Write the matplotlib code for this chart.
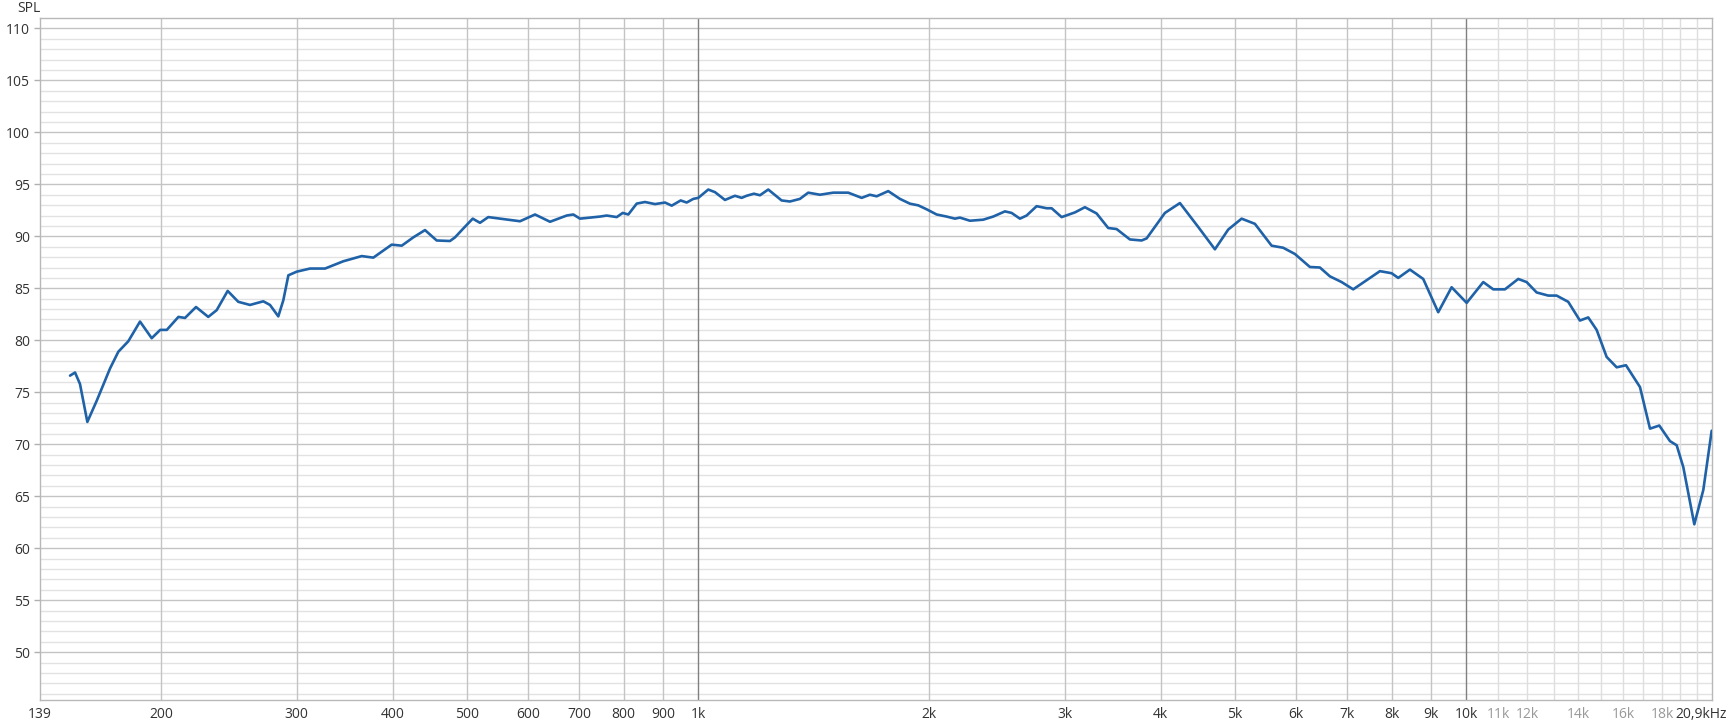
import matplotlib
matplotlib.use('Agg')
import matplotlib.pyplot as plt
import matplotlib.transforms as mtransforms
from matplotlib.ticker import FixedLocator, NullFormatter

plt.rcParams['font.family'] = ['Open Sans', 'DejaVu Sans']

#-----------------DATA-----------------

#frequency response (Hz, dB SPL)
freq = [152.1, 154.4, 156.7, 160.2, 164.8, 171.5, 175.8, 181.1, 187.6, 194.3,
        199.3, 203.3, 210.5, 214.7, 221.9, 230.2, 236.1, 244.0, 251.9, 260.9,
        271.5, 277.0, 284.0, 288.3, 292.7, 300.1, 312.3, 326.7, 345.1, 364.7,
        377.6, 399.0, 411.2, 425.7, 440.9, 456.6, 475.2, 482.4, 494.5, 508.7,
        519.9, 533.0, 552.0, 586.2, 613.2, 641.4, 674.3, 687.8, 701.7, 745.1,
        760.2, 783.4, 797.6, 811.1, 831.8, 852.7, 878.7, 905.4, 923.8, 949.0,
        966.2, 985.5, 1000.4, 1030.8, 1051.7, 1083.7, 1116.7, 1139.3, 1156.5, 1182.1,
        1203.6, 1233.9, 1284.4, 1316.8, 1356.8, 1391.0, 1440.7, 1499.3, 1568.3, 1632.6,
        1673.7, 1707.7, 1768.1, 1831.2, 1887.0, 1934.5, 1983.8, 2044.2, 2106.4, 2159.5,
        2192.1, 2258.8, 2350.7, 2422.2, 2508.7, 2559.6, 2624.1, 2677.4, 2758.9, 2842.9,
        2885.8, 2973.6, 3094.6, 3188.7, 3302.5, 3419.4, 3506.5, 3649.2, 3779.5, 3836.6,
        4053.0, 4239.5, 4478.6, 4708.6, 4900.1, 5101.0, 5308.5, 5581.1, 5778.6, 5984.8,
        6260.2, 6450.7, 6647.0, 6884.3, 7127.9, 7494.0, 7722.1, 7997.9, 8157.7, 8448.9,
        8792.6, 9197.0, 9574.0, 10016, 10527, 10847, 11234, 11691, 11989, 12354,
        12791, 13117, 13581, 14066, 14421, 14789, 15239, 15704, 16148, 16841,
        17354, 17845, 18427, 18801, 19177, 19820, 20362, 20880]

spl = [76.6, 76.9, 75.8, 72.15, 74.2, 77.3, 78.9, 79.9, 81.8, 80.2,
       81.0, 81.0, 82.25, 82.15, 83.2, 82.25, 82.9, 84.75, 83.7, 83.4,
       83.75, 83.4, 82.3, 83.85, 86.25, 86.6, 86.9, 86.9, 87.6, 88.1,
       87.95, 89.2, 89.1, 89.9, 90.6, 89.6, 89.55, 89.9, 90.75, 91.7,
       91.3, 91.85, 91.7, 91.45, 92.1, 91.4, 92.0, 92.1, 91.7, 91.9,
       92.0, 91.85, 92.25, 92.1, 93.15, 93.3, 93.1, 93.25, 92.95, 93.45,
       93.25, 93.6, 93.7, 94.5, 94.25, 93.5, 93.9, 93.7, 93.9, 94.1,
       93.95, 94.5, 93.45, 93.35, 93.6, 94.2, 94.0, 94.2, 94.2, 93.7,
       94.0, 93.85, 94.35, 93.6, 93.14, 92.98, 92.6, 92.1, 91.9, 91.7,
       91.8, 91.5, 91.6, 91.9, 92.4, 92.25, 91.7, 92.0, 92.9, 92.7,
       92.7, 91.85, 92.3, 92.8, 92.2, 90.8, 90.7, 89.7, 89.6, 89.8,
       92.25, 93.2, 90.9, 88.75, 90.65, 91.7, 91.2, 89.1, 88.9, 88.3,
       87.05, 87.0, 86.15, 85.6, 84.9, 86.0, 86.65, 86.45, 86.0, 86.8,
       85.9, 82.7, 85.1, 83.6, 85.6, 84.9, 84.9, 85.9, 85.6, 84.6,
       84.3, 84.3, 83.7, 81.9, 82.2, 81.0, 78.4, 77.4, 77.6, 75.5,
       71.5, 71.8, 70.3, 69.9, 67.8, 62.3, 65.6, 71.3]

#x axis labels
x_ticks = [139, 200, 300, 400, 500, 600, 700, 800, 900, 1000,
           2000, 3000, 4000, 5000, 6000, 7000, 8000, 9000, 10000,
           11000, 12000, 14000, 16000, 18000, 20900]
x_labels = ['139', '200', '300', '400', '500', '600', '700', '800', '900', '1k',
            '2k', '3k', '4k', '5k', '6k', '7k', '8k', '9k', '10k',
            '11k', '12k', '14k', '16k', '18k', '20,9kHz']
faint_labels = ['11k', '12k', '14k', '16k', '18k']

#vertical grid lines
grid_mid = [200, 300, 400, 500, 600, 700, 800, 900,
            2000, 3000, 4000, 5000, 6000, 7000, 8000, 9000]
grid_dark = [1000, 10000]
grid_light = [11000, 12000, 13000, 14000, 15000, 16000, 17000, 18000, 19000, 20000]

y_ticks = [50, 55, 60, 65, 70, 75, 80, 85, 90, 95, 100, 105, 110]


#-----------------GRAPH-----------------

fig = plt.figure(figsize=(17.32, 7.25), dpi=100)
ax = fig.add_axes([40 / 1732, 1 - 700 / 725, 1672 / 1732, 682 / 725])

ax.set_xscale('log')
ax.set_xlim(139, 20900)
ax.set_ylim(45.4, 111.0)

#horizontal grid: 1 dB light, 5 dB darker
for v in range(46, 111):
    col = '#c4c4c4' if v % 5 == 0 else '#e2e2e2'
    ax.axhline(v, color=col, lw=1.0, zorder=0)

#vertical grid
for f in grid_light:
    ax.axvline(f, color='#dedede', lw=1.0, zorder=0)
for f in grid_mid:
    ax.axvline(f, color='#c4c4c4', lw=1.0, zorder=0)
for f in grid_dark:
    ax.axvline(f, color='#808080', lw=1.0, zorder=0)

ax.plot(freq, spl, color='#1f62a8', lw=1.9, solid_joinstyle='round',
        solid_capstyle='round', zorder=3)

#ticks
ax.xaxis.set_major_locator(FixedLocator(x_ticks))
ax.set_xticklabels(x_labels)
ax.xaxis.set_minor_formatter(NullFormatter())
ax.tick_params(axis='x', which='both', length=0, pad=5, labelsize=10, colors='#333333')
for lbl in ax.get_xticklabels():
    if lbl.get_text() in faint_labels:
        lbl.set_color('#999999')

#last label sits right-aligned so it stays inside the figure
last = ax.get_xticklabels()[-1]
last.set_horizontalalignment('right')
last.set_transform(last.get_transform() + mtransforms.ScaledTranslation(0.15, 0, fig.dpi_scale_trans))

ax.set_yticks(y_ticks)
ax.tick_params(axis='y', length=4, width=1, color='#b0b0b0', pad=3,
               labelsize=10, labelcolor='#333333')

for s in ax.spines.values():
    s.set_color('#b8b8b8')
    s.set_linewidth(1.0)

fig.text(29 / 1732, 1 - 8 / 725, 'SPL', ha='center', va='center',
         fontsize=10, color='#333333')

fig.savefig('out.png', dpi=100)
